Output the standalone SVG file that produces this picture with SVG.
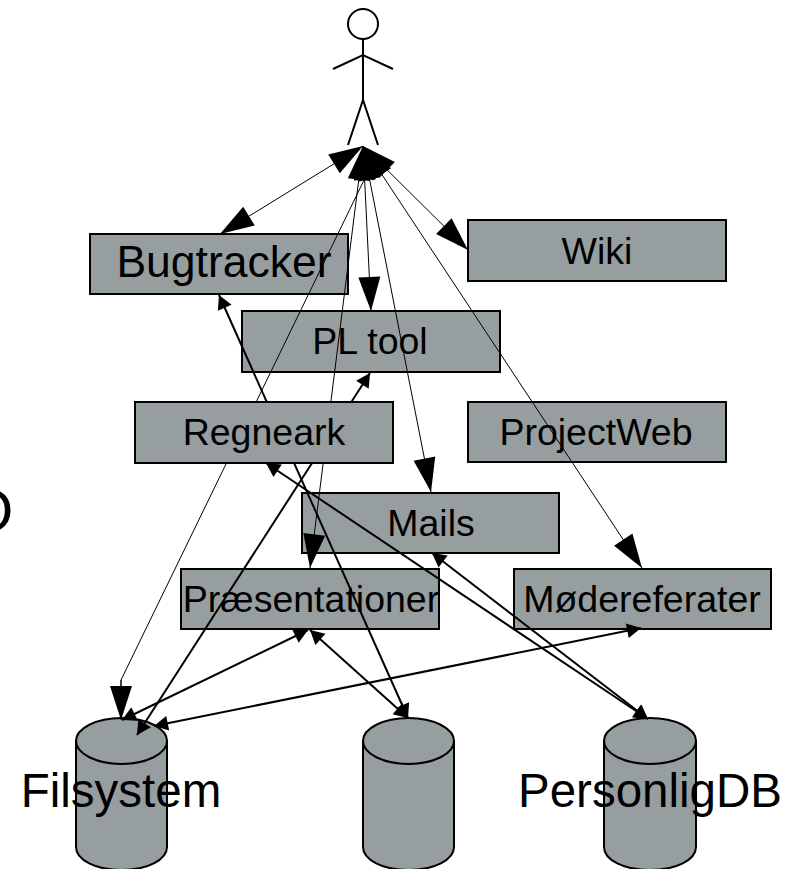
<svg xmlns="http://www.w3.org/2000/svg" width="797" height="869" viewBox="0 0 797 869">
<style>
text{font-family:"Liberation Sans",Arial,sans-serif;fill:#000;text-anchor:middle}
.box{fill:#969ea0;stroke:#000;stroke-width:2}
.t36{font-size:37.500px}
.t46{font-size:47.500px}
.t43{font-size:44.500px}
.t60{font-size:60px}
.thin{fill:none;stroke:#000;stroke-width:1}
.mid{fill:none;stroke:#000;stroke-width:2}
.big{marker-end:url(#bigH);marker-start:url(#bigH)}
.small{marker-end:url(#smallH);marker-start:url(#smallH)}
.actor{fill:none;stroke:#000;stroke-width:2}
</style>
<defs>
<marker id="bigH" markerUnits="userSpaceOnUse" markerWidth="36" markerHeight="26" refX="34" refY="12" orient="auto-start-reverse" overflow="visible"><path d="M0,1 L34,12 L0,23 Z" fill="#000"/></marker>
<marker id="smallH" markerUnits="userSpaceOnUse" markerWidth="16" markerHeight="18" refX="14" refY="8" orient="auto-start-reverse" overflow="visible"><path d="M0,0.5 L14,8 L0,15.5 Z" fill="#000"/></marker>
</defs>
<rect width="797" height="869" fill="#fff"/>
<text class="t60" x="-10" y="531">O</text>
<g id="actor" class="actor">
<circle cx="363" cy="24" r="15"/>
<path d="M363,39V100M333,69L363,55L393,69M348,145L363,100L378,145"/>
</g>
<g id="filsystem"><path class="box" d="M76,741V847C76,860 96,870 121.500,870C147,870 167,860 167,847V741Z"/><ellipse class="box" cx="121.500" cy="741" rx="45.500" ry="23"/><text class="t46" x="121" y="807">Filsystem</text></g>
<g id="db2"><path class="box" d="M363,741V847C363,860 383,870 408.500,870C434,870 454,860 454,847V741Z"/><ellipse class="box" cx="408.500" cy="741" rx="45.500" ry="23"/></g>
<g id="personligdb"><path class="box" d="M604,741V847C604,860 624,870 650,870C676,870 696,860 696,847V741Z"/><ellipse class="box" cx="650" cy="741" rx="46" ry="23"/><text class="t46" x="650" y="807">PersonligDB</text></g>
<g id="bugtracker"><rect class="box" x="90" y="234" width="258" height="60"/><text class="t43" x="224" y="277">Bugtracker</text></g>
<g id="wiki"><rect class="box" x="468" y="220" width="258" height="61"/><text class="t36" x="597" y="264">Wiki</text></g>
<g id="pltool"><rect class="box" x="242" y="311" width="258" height="61"/><text class="t36" x="370" y="354">PL tool</text></g>
<g id="projectweb"><rect class="box" x="468" y="402" width="258" height="60"/><text class="t36" x="596" y="445">ProjectWeb</text></g>
<g id="mails"><rect class="box" x="302" y="493" width="257" height="60"/><text class="t36" x="431" y="536">Mails</text></g>
<g id="praesentationer"><rect class="box" x="181" y="569" width="258" height="60"/><text class="t36" x="311" y="612">Præsentationer</text></g>
<g id="moedereferater"><rect class="box" x="514" y="569" width="257" height="60"/><text class="t36" x="642" y="612">Mødereferater</text></g>
<g id="connectors">
<path class="thin big" d="M363,146L220,234"/>
<path class="thin big" d="M363,146L468,250"/>
<path class="thin big" d="M363,146L371,311"/>
<path class="thin big" d="M363,146L431,492"/>
<path class="thin big" d="M363,146L642,568"/>
<path class="thin big" d="M363,146L310,568"/>
<path class="thin" d="M366,176L121,680V690"/>
<path class="thin" style="marker-end:url(#bigH)" d="M121,680V720"/>
<path class="mid small" d="M219,295L408,718"/>
<path class="mid small" d="M370,373L137,735"/>
<path class="mid small" d="M308,630L122,720"/>
<path class="mid small" d="M310,630L408,718"/>
<path class="mid small" d="M641,628L154,726"/>
<path class="mid small" d="M266,463L648,719"/>
<path class="mid small" d="M432,553L648,719"/>
</g>
<g id="regneark"><rect class="box" x="135" y="402" width="258" height="61"/><text class="t36" x="264" y="445">Regneark</text></g>
</svg>
